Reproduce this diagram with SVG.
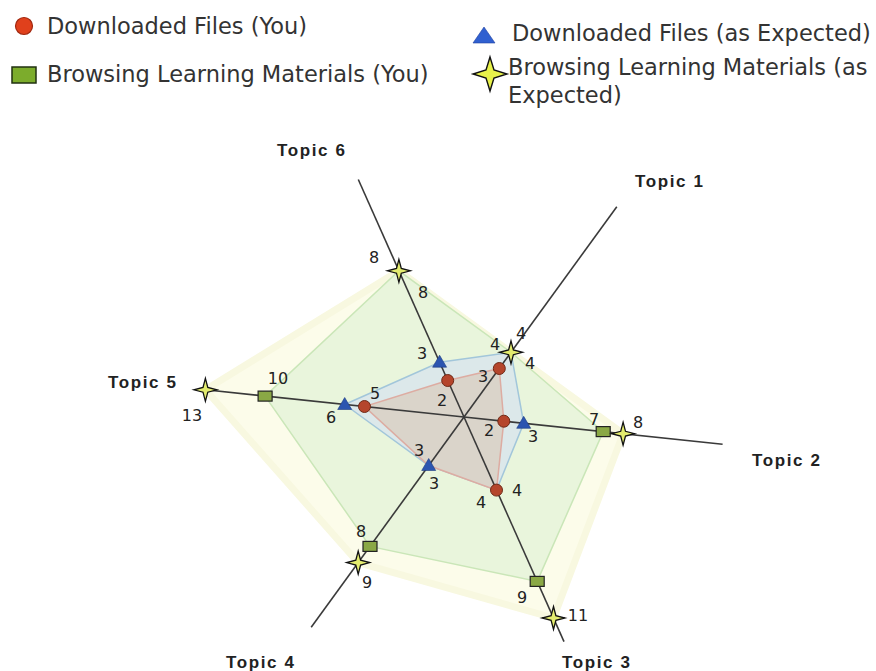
<svg xmlns="http://www.w3.org/2000/svg" width="876" height="671" viewBox="0 0 876 671">
<style>
.leg{font-family:"DejaVu Sans",Verdana,sans-serif;font-size:22.5px;fill:#333}
.topic{font-family:"Liberation Sans",Arial,sans-serif;font-size:17px;font-weight:bold;letter-spacing:1.6px;fill:#222}
.val{font-family:"DejaVu Sans",Verdana,sans-serif;font-size:16px;fill:#222;text-anchor:middle}
.axis{stroke:#3a3a3a;stroke-width:1.6;fill:none}
.dot{fill:#b5452c;stroke:#6e2a18;stroke-width:1}
.tri{fill:#2c55b0;stroke:#1c3a80;stroke-width:0.6}
.sq{fill:#8aa845;stroke:#222;stroke-width:1.2}
.star{fill:#e3ec6e;stroke:#111;stroke-width:1.3;stroke-linejoin:miter}
</style>
<defs>
<path id="starShape" d="M0,-11.5 L2.4,-2.4 L11.5,0 L2.4,2.4 L0,11.5 L-2.4,2.4 L-11.5,0 L-2.4,-2.4 Z"/>
<path id="triShape" d="M0,-7 L7,5 L-7,5 Z"/>
</defs>
<rect width="876" height="671" fill="#ffffff"/>

<g id="legend">
<g id="legend-dl-you">
<circle cx="24" cy="26" r="8.5" fill="#e0401c" stroke="#a02810" stroke-width="1.2"/>
<text class="leg" x="47" y="34">Downloaded Files (You)</text>
</g>
<g id="legend-br-you">
<rect x="12" y="67" width="24" height="16" fill="#7cac2c" stroke="#203010" stroke-width="1.5"/>
<text class="leg" x="47" y="82">Browsing Learning Materials (You)</text>
</g>
<g id="legend-dl-exp">
<path d="M484,27 L495,43 L473,43 Z" fill="#3060d0" stroke="#2040a0" stroke-width="0.6"/>
<text class="leg" x="512" y="41">Downloaded Files (as Expected)</text>
</g>
<g id="legend-br-exp">
<path d="M490,57 L494,70 L507,74 L494,78 L490,91 L486,78 L473,74 L486,70 Z" fill="#e8f24a" stroke="#111" stroke-width="1.4"/>
<text class="leg" x="508" y="75">Browsing Learning Materials (as</text>
<text class="leg" x="508" y="103">Expected)</text>
</g>
</g>

<g id="series-fills">
<polygon id="fill-br-exp" points="511,352.3 623.1,433.7 553.5,618 358.2,562.6 205.4,389.8 398.9,270.8" fill="#fcfcea" stroke="#f8f8e0" stroke-width="7" stroke-linejoin="round"/>
<polygon id="fill-br-you" points="511,352.3 603.2,431.6 537.2,581.4 370,546.4 265.1,396.1 398.9,270.8" fill="#e9f5dc" stroke="#cae6b8" stroke-width="1.5"/>
<polygon id="fill-dl-exp" points="511,352.3 523.7,423.3 496.5,490.1 428.7,465.5 344.7,404.5 439.6,362.2" fill="#dce8ea" stroke="#a2c6da" stroke-width="1.5"/>
<polygon id="fill-dl-you" points="499.3,368.5 503.8,421.2 496.5,490.1 428.7,465.5 364.5,406.5 447.7,380.5" fill="#dad4ca" stroke="#ddaca2" stroke-width="1.5"/>
</g>

<g id="connectors">
<line class="axis" x1="464" y1="417" x2="616.8" y2="206.7"/>
<line class="axis" x1="464" y1="417" x2="722.6" y2="444.2"/>
<line class="axis" x1="464" y1="417" x2="564" y2="641.7"/>
<line class="axis" x1="464" y1="417" x2="311.2" y2="627.3"/>
<line class="axis" x1="464" y1="417" x2="205.4" y2="389.8"/>
<line class="axis" x1="464" y1="417" x2="358.3" y2="179.5"/>
</g>

<g id="markers-dl-you">
<circle class="dot" cx="499.3" cy="368.5" r="6"/>
<circle class="dot" cx="503.8" cy="421.2" r="6"/>
<circle class="dot" cx="496.5" cy="490.1" r="6"/>
<circle class="dot" cx="364.5" cy="406.5" r="6"/>
<circle class="dot" cx="447.7" cy="380.5" r="6"/>
</g>
<g id="markers-dl-exp">
<use href="#triShape" class="tri" x="523.7" y="423.3"/>
<use href="#triShape" class="tri" x="428.7" y="465.5"/>
<use href="#triShape" class="tri" x="344.7" y="404.5"/>
<use href="#triShape" class="tri" x="439.6" y="362.2"/>
</g>
<g id="markers-br-you">
<rect class="sq" x="596.2" y="426.6" width="14" height="10"/>
<rect class="sq" x="530.2" y="576.4" width="14" height="10"/>
<rect class="sq" x="363" y="541.4" width="14" height="10"/>
<rect class="sq" x="258.1" y="391.1" width="14" height="10"/>
</g>
<g id="markers-br-exp">
<use href="#starShape" class="star" x="511" y="352.3"/>
<use href="#starShape" class="star" x="623.1" y="433.7"/>
<use href="#starShape" class="star" x="553.5" y="618"/>
<use href="#starShape" class="star" x="358.2" y="562.6"/>
<use href="#starShape" class="star" x="205.4" y="389.8"/>
<use href="#starShape" class="star" x="398.9" y="270.8"/>
</g>

<g id="values">
<text class="val" x="495" y="350">4</text>
<text class="val" x="521" y="339">4</text>
<text class="val" x="530" y="369">4</text>
<text class="val" x="483" y="382">3</text>
<text class="val" x="489" y="436">2</text>
<text class="val" x="533" y="442">3</text>
<text class="val" x="594" y="425">7</text>
<text class="val" x="638" y="428">8</text>
<text class="val" x="517" y="496">4</text>
<text class="val" x="481" y="508">4</text>
<text class="val" x="522" y="603">9</text>
<text class="val" x="578" y="621">11</text>
<text class="val" x="419" y="456">3</text>
<text class="val" x="434" y="489">3</text>
<text class="val" x="361" y="537">8</text>
<text class="val" x="367" y="588">9</text>
<text class="val" x="375" y="399">5</text>
<text class="val" x="331" y="423">6</text>
<text class="val" x="278" y="384">10</text>
<text class="val" x="192" y="421">13</text>
<text class="val" x="374" y="263">8</text>
<text class="val" x="423" y="298">8</text>
<text class="val" x="422" y="359">3</text>
<text class="val" x="442" y="406">2</text>
</g>

<g id="topic-labels">
<text id="topic1" class="topic" x="635" y="187">Topic 1</text>
<text id="topic2" class="topic" x="752" y="466">Topic 2</text>
<text id="topic3" class="topic" x="562" y="668">Topic 3</text>
<text id="topic4" class="topic" x="226" y="668">Topic 4</text>
<text id="topic5" class="topic" x="108" y="388">Topic 5</text>
<text id="topic6" class="topic" x="277" y="156">Topic 6</text>
</g>
</svg>
